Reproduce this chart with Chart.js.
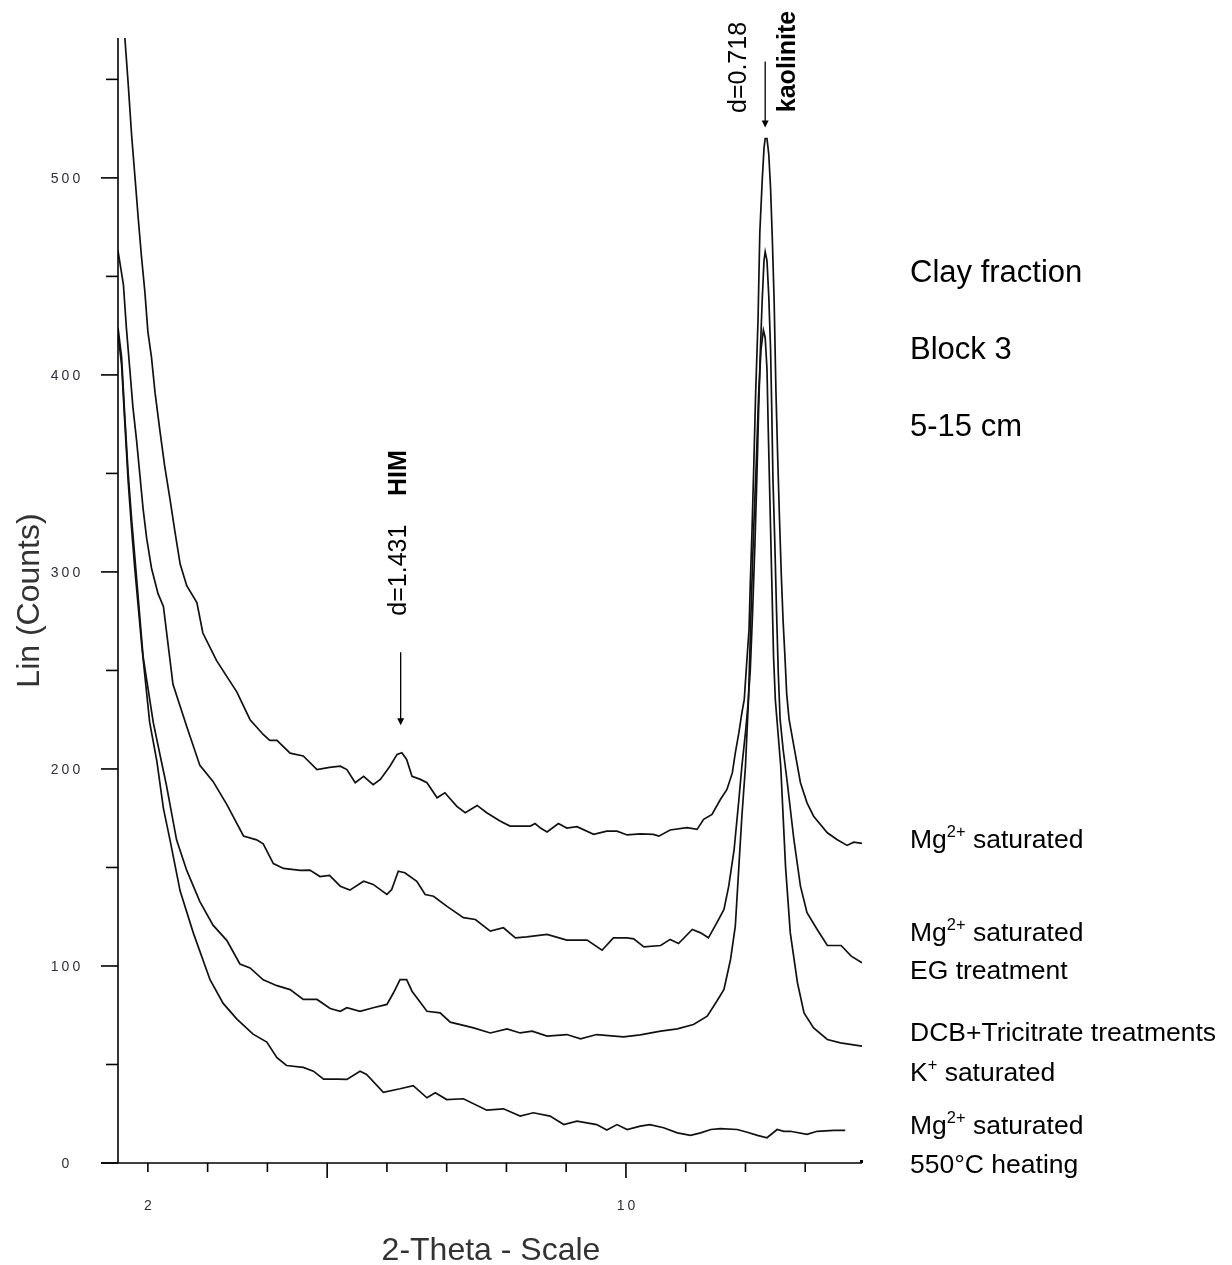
<!DOCTYPE html>
<html><head><meta charset="utf-8">
<script src="https://cdn.jsdelivr.net/npm/chart.js@4.4.1/dist/chart.umd.min.js"></script>
<style>html,body{margin:0;padding:0;background:#fff;} #wrap{width:1232px;height:1265px;}</style>
</head><body><div id="wrap"><canvas id="c" width="1232" height="1265"></canvas></div>
<script>
// ---- data (2-theta in degrees, counts) ----
const mgSatTheta = [1.55,1.615,1.67,1.727,1.78,1.84,1.89,1.95,2.0,2.06,2.12,2.20,2.28,2.37,2.45,2.54,2.65,2.82,2.92,3.15,3.32,3.49,3.71,3.93,4.04,4.16,4.38,4.60,4.83,5.04,5.22,5.33,5.47,5.61,5.77,5.89,6.05,6.17,6.25,6.33,6.42,6.56,6.67,6.84,6.97,7.17,7.31,7.51,7.67,7.90,8.06,8.40,8.48,8.57,8.68,8.87,9.01,9.18,9.46,9.68,9.85,10.02,10.24,10.46,10.55,10.74,11.02,11.19,11.30,11.44,11.58,11.69,11.78,11.83,11.89,11.94,11.98,12.02,12.06,12.08,12.11,12.14,12.17,12.21,12.24,12.28,12.31,12.33,12.36,12.39,12.42,12.45,12.48,12.51,12.54,12.57,12.60,12.63,12.66,12.69,12.73,12.81,12.92,13.03,13.14,13.37,13.53,13.70,13.81,13.95];
const mgSatCounts = [600,571,548,522,502,479,461,442,422,409,391,372,354,337,321,304,293,284.5,269,255,247,239,225,217.5,214.5,214.5,208,206.6,199.7,200.8,201.4,199.7,193,196.3,192,194.7,201.4,207.4,208.2,204.8,196.3,194.7,193,185.4,187.9,181,177.8,181.5,177.8,173.5,171,171,172.3,170,168,172.3,170,170.7,166.8,168.4,168.4,166.5,167,166.8,165.9,169,170.2,169.3,174.4,176.9,184.5,189.6,198,208.2,218.4,228.5,235.3,253.6,271,293.4,321.6,354.7,390.6,427.7,472.3,498.6,515,520,520,512,494.7,468.4,437.3,391.6,357.6,326.4,298.2,275,257.4,238,225.1,211.6,193,182.8,176,167.6,164.2,161.2,162.8,162.2];

const mgEgTheta = [1.50,1.59,1.64,1.70,1.75,1.81,1.87,1.92,1.98,2.06,2.17,2.26,2.42,2.65,2.87,3.09,3.32,3.60,3.82,3.93,4.10,4.27,4.55,4.71,4.88,5.04,5.22,5.38,5.61,5.77,6.0,6.08,6.19,6.30,6.50,6.64,6.78,7.0,7.28,7.48,7.73,7.95,8.15,8.34,8.68,9.01,9.35,9.60,9.79,10.02,10.13,10.30,10.58,10.74,10.88,11.11,11.25,11.38,11.52,11.64,11.72,11.81,11.89,11.94,12.0,12.04,12.08,12.12,12.16,12.19,12.22,12.25,12.28,12.31,12.33,12.36,12.39,12.42,12.44,12.46,12.49,12.52,12.55,12.58,12.63,12.70,12.81,12.92,13.03,13.20,13.37,13.60,13.77,13.95];
const mgEgCounts = [463,446,424,402,383.5,367,348,332,317,302,289,282.5,243,221.6,201.8,193.7,182,166,164,162,152,149.5,148.5,148.7,145.4,146,140.5,138.5,143,141.4,136.3,138.8,148.1,147.3,143,136.3,135.4,130.4,124.5,123.6,117.7,119.4,114.3,114.8,116,113.1,113.1,108,114.3,114.3,113.8,109.7,110.4,113.5,111.4,118.5,116.8,114.3,121.9,128.7,140.5,159.1,184.5,201.4,218.4,232,250,280,316,347,382,413,438,458,462.5,458,440,413,382,347,316,280,248,225,210,193,164.2,140.5,127,118.5,110.4,110.4,105,101.6];

const dcbKTheta = [1.50,1.56,1.61,1.67,1.73,1.78,1.92,2.09,2.20,2.31,2.48,2.65,2.87,3.09,3.32,3.54,3.71,3.93,4.16,4.38,4.60,4.83,5.05,5.22,5.33,5.55,5.77,6.0,6.11,6.22,6.33,6.42,6.67,6.89,7.06,7.45,7.73,8.01,8.23,8.43,8.68,9.01,9.24,9.51,9.96,10.24,10.58,10.86,11.13,11.36,11.52,11.64,11.75,11.83,11.89,11.94,12.0,12.05,12.09,12.13,12.18,12.22,12.26,12.30,12.33,12.36,12.38,12.41,12.44,12.47,12.50,12.59,12.67,12.75,12.87,12.98,13.14,13.37,13.59,13.95];
const dcbKCounts = [424,409,381,350,326,308,257,223.6,207.6,191.8,164,148.5,132.7,120.7,113,101,99,93,90,88,83,83,78.4,77,78.8,77,78.8,80.5,86.4,93.1,93.1,87.2,77,76.2,71.5,68.6,66,68.1,66,66.9,64.4,65.2,63,65.2,64,65,66.9,68.1,70.3,74.5,82.1,88.1,103.3,120.2,150.7,176,201.4,235,277,316,355,390,413,422.7,419,403,374,335,296,257,235,201.4,150.7,116.8,91.5,76.2,68.6,62.7,61,59.3];

const heat550Theta = [1.50,1.56,1.61,1.67,1.73,1.78,1.84,1.90,2.03,2.15,2.26,2.37,2.54,2.76,3.04,3.26,3.49,3.76,3.99,4.16,4.32,4.60,4.77,4.94,5.16,5.33,5.55,5.66,5.94,6.22,6.44,6.67,6.81,7.0,7.28,7.67,7.95,8.23,8.45,8.73,8.96,9.18,9.51,9.68,9.85,10.02,10.24,10.40,10.63,10.86,11.08,11.25,11.42,11.58,11.86,12.03,12.20,12.36,12.53,12.64,12.75,13.03,13.20,13.48,13.67];
const heat550Counts = [421,405,378,346,321,302,282,262,223.6,204,180,164,138,116.8,93,81,73,65.4,61.4,53.5,49.5,48.5,46.6,42.6,42.6,42.4,46.6,44.9,35.9,37.7,39.3,33.1,35.6,32.2,32.6,26.8,27.5,23.8,25.5,23.8,19.5,21.2,19.5,16.7,19.5,17,18.7,19.5,17.9,15.3,14,15.3,17,17.4,17,15.6,14,12.8,17,16.1,16.1,14.5,16.1,16.6,16.6];

const seriesNames = ['Mg2+ saturated','Mg2+ saturated, EG treatment','DCB+Tricitrate treatments, K+ saturated','Mg2+ saturated, 550°C heating'];
const xTickValues = [2,3,4,5,6,7,8,9,10,11,12,13];
const xLongTicks = [5,10];
const xLabelledTicks = [2,10];
const yMajorTicks = [0,100,200,300,400,500];
const yMinorTicks = [50,150,250,350,450,550];
const xTitle = '2-Theta - Scale';
const yTitle = 'Lin (Counts)';
const infoLines = ['Clay fraction','Block 3','5-15 cm'];
// rich labels: [normal, superscript, normal, ...]
const seriesLabelLines = [
  [['Mg','2+',' saturated']],
  [['Mg','2+',' saturated'],['EG treatment']],
  [['DCB+Tricitrate treatments'],['K','+',' saturated']],
  [['Mg','2+',' saturated'],['550°C heating']]
];
const himText = 'd=1.431', himName = 'HIM', himTheta = 6.23, himCounts = 208;
const kaoText = 'd=0.718', kaoName = 'kaolinite', kaoTheta = 12.33, kaoCounts = 520;

// ---- drawing ----
const FONT = '"Liberation Sans", Arial, sans-serif';
function drawRich(ctx, segs, x, y, size){
  let cx = x;
  ctx.textAlign = 'left'; ctx.textBaseline = 'alphabetic';
  const base = y + size*0.36;
  segs.forEach((s,i)=>{
    if (i % 2 === 1){
      const ss = size*0.62;
      ctx.font = ss + 'px ' + FONT;
      ctx.fillText(s, cx, base - size*0.38);
      cx += ctx.measureText(s).width;
    } else {
      ctx.font = size + 'px ' + FONT;
      ctx.fillText(s, cx, base);
      cx += ctx.measureText(s).width;
    }
  });
}
function vText(ctx, txt, x, y, font){
  ctx.save(); ctx.translate(x,y); ctx.rotate(-Math.PI/2);
  ctx.font = font; ctx.textAlign='center'; ctx.textBaseline='middle';
  ctx.fillText(txt,0,0); ctx.restore();
}
function arrow(ctx, x, y0, y1){
  ctx.beginPath(); ctx.moveTo(x,y0); ctx.lineTo(x,y1-5); ctx.stroke();
  ctx.beginPath(); ctx.moveTo(x-3.5,y1-7); ctx.lineTo(x+3.5,y1-7); ctx.lineTo(x,y1); ctx.closePath(); ctx.fill();
}

const decor = {
  id:'decor',
  afterDraw(chart){
    const ctx = chart.ctx, a = chart.chartArea, xs = chart.scales.x, ys = chart.scales.y;
    ctx.save();
    ctx.strokeStyle = '#000'; ctx.fillStyle = '#000'; ctx.lineWidth = 1.6;
    // axis lines
    ctx.beginPath(); ctx.moveTo(a.left, a.top); ctx.lineTo(a.left, a.bottom); ctx.stroke();
    ctx.beginPath(); ctx.moveTo(a.left-17, a.bottom); ctx.lineTo(a.right, a.bottom); ctx.stroke();
    ctx.fillRect(a.right-2, a.bottom-3, 3, 3);
    // y ticks
    yMajorTicks.forEach(v=>{const y=ys.getPixelForValue(v); ctx.beginPath(); ctx.moveTo(a.left-17,y); ctx.lineTo(a.left,y); ctx.stroke();});
    yMinorTicks.forEach(v=>{const y=ys.getPixelForValue(v); ctx.beginPath(); ctx.moveTo(a.left-12,y); ctx.lineTo(a.left,y); ctx.stroke();});
    // x ticks
    xTickValues.forEach(v=>{const x=xs.getPixelForValue(v); const L = xLongTicks.includes(v)?15:9; ctx.beginPath(); ctx.moveTo(x,a.bottom); ctx.lineTo(x,a.bottom+L); ctx.stroke();});
    // tick labels
    ctx.fillStyle = '#2e2e3c';
    ctx.font = '14px ' + FONT;
    try { ctx.letterSpacing = '3px'; } catch(e){}
    ctx.textAlign = 'center'; ctx.textBaseline = 'middle';
    yMajorTicks.forEach(v=>{ ctx.fillText(String(v), a.left-51, ys.getPixelForValue(v)+1); });
    ctx.textBaseline = 'top';
    xLabelledTicks.forEach(v=>{ ctx.fillText(String(v), xs.getPixelForValue(v)+1.5, a.bottom+36); });
    try { ctx.letterSpacing = '0px'; } catch(e){}
    // axis titles
    ctx.fillStyle = '#333';
    vText(ctx, yTitle, 30, (a.top+a.bottom)/2, '32px ' + FONT);
    ctx.font = '32px ' + FONT; ctx.textAlign='center'; ctx.textBaseline='middle';
    ctx.fillText(xTitle, (a.left+a.right)/2 + 1, 1251);
    // annotations
    ctx.fillStyle = '#000'; ctx.strokeStyle = '#000'; ctx.lineWidth = 1.3;
    const hx = xs.getPixelForValue(himTheta), hTip = ys.getPixelForValue(himCounts) - 28;
    arrow(ctx, hx, hTip-73, hTip);
    vText(ctx, himText, hx-2, hTip-155, '25px ' + FONT);
    vText(ctx, himName, hx-2, hTip-252, 'bold 25px ' + FONT);
    const kx = xs.getPixelForValue(kaoTheta), kTip = ys.getPixelForValue(kaoCounts) - 11;
    arrow(ctx, kx, kTip-66, kTip);
    vText(ctx, kaoText, kx-26, kTip-60, '25px ' + FONT);
    vText(ctx, kaoName, kx+23, kTip-66, 'bold 25px ' + FONT);
    // right-hand text
    const lx = a.right + 48;
    const infoY = [271, 348, 425];
    infoLines.forEach((t,i)=> drawRich(ctx, [t], lx, infoY[i], 31));
    const labelY = [[838],[931,969],[1031,1071],[1124,1163]];
    seriesLabelLines.forEach((lines,i)=> lines.forEach((segs,j)=> drawRich(ctx, segs, lx, labelY[i][j], 26.5)));
    ctx.restore();
  }
};

const thetas = [mgSatTheta, mgEgTheta, dcbKTheta, heat550Theta];
const counts = [mgSatCounts, mgEgCounts, dcbKCounts, heat550Counts];
const datasets = thetas.map((th,k)=>({
  label: seriesNames[k],
  data: th.map((t,i)=>({x:t, y:counts[k][i]})),
  borderColor:'#111', borderWidth:1.7, pointRadius:0, tension:0, fill:false
}));

new Chart(document.getElementById('c').getContext('2d'), {
  type:'line',
  data:{datasets},
  options:{
    responsive:false, animation:false, devicePixelRatio:1,
    layout:{padding:{left:118,right:370,top:38,bottom:102}},
    plugins:{legend:{display:false}, tooltip:{enabled:false}},
    scales:{
      x:{type:'linear', min:1.5, max:13.95, grid:{display:false, drawTicks:false}, border:{display:false}, ticks:{display:false}, afterFit(s){s.height=0;}},
      y:{type:'linear', min:0, max:571, grid:{display:false, drawTicks:false}, border:{display:false}, ticks:{display:false}, afterFit(s){s.width=0;}}
    }
  },
  plugins:[decor]
});
</script>
</body></html>
